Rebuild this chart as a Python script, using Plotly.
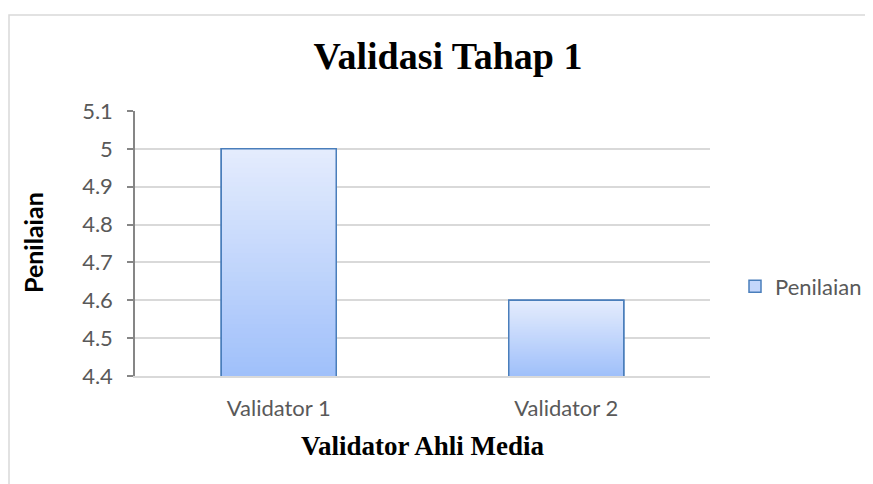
import plotly.graph_objects as go

categories = ["Validator 1", "Validator 2"]
values = [5.0, 4.6]
series_name = "Penilaian"
y_tickvals = [4.4, 4.5, 4.6, 4.7, 4.8, 4.9, 5.0, 5.1]
y_ticktext = ["4.4", "4.5", "4.6", "4.7", "4.8", "4.9", "5", "5.1"]
title_text = "Validasi Tahap 1"
x_title = "Validator Ahli Media"
y_title = "Penilaian"

YMIN, YMAX = 4.4, 5.1
BAR_W = 0.4
TOP_RGB = (228, 236, 253)
BOT_RGB = (160, 192, 250)
EDGE = "#4a7ebb"
N_STEPS = 48

# page body has an 8px margin; the figure is sized so the plot lands where wanted
OFF = 8
FIG_W, FIG_H = 873 - OFF, 484 - OFF
PL, PR, PT, PB = 135, 710, 111, 376  # plot area in window pixels


def px_x(X):
    return (X - PL) / (PR - PL)


def px_y(Y):
    return (PB - Y) / (PB - PT)


fig = go.Figure()

fig.add_trace(go.Bar(
    x=categories, y=values, name=series_name, width=BAR_W,
    marker=dict(color="rgb(196,214,251)", line=dict(color=EDGE, width=1.5)),
    hoverinfo="skip", showlegend=True,
))

for k in range(N_STEPS):
    t = k / (N_STEPS - 1)
    col = tuple(round(TOP_RGB[i] + (BOT_RGB[i] - TOP_RGB[i]) * t) for i in range(3))
    ys = [YMIN + (v - YMIN) * (1 - k / N_STEPS) for v in values]
    fig.add_trace(go.Bar(
        x=categories, y=ys, width=BAR_W,
        marker=dict(color="rgb(%d,%d,%d)" % col, line=dict(width=0)),
        hoverinfo="skip", showlegend=False,
    ))

fig.add_trace(go.Bar(
    x=categories, y=values, width=BAR_W,
    marker=dict(color="rgba(0,0,0,0)", line=dict(color=EDGE, width=1.5)),
    hoverinfo="skip", showlegend=False,
))

fig.update_layout(
    width=FIG_W, height=FIG_H,
    barmode="overlay",
    paper_bgcolor="white", plot_bgcolor="white",
    margin=dict(l=PL - OFF, r=873 - PR, t=PT - OFF, b=484 - PB, autoexpand=False),
    font=dict(family="Lato, 'Open Sans', sans-serif", color="#595959", size=22),
    title=dict(text="<b>" + title_text + "</b>", x=(448 - OFF) / FIG_W, xanchor="center",
               y=1 - (55.5 - OFF) / FIG_H, yanchor="middle", yref="container",
               font=dict(family="'Liberation Serif', 'Times New Roman', serif",
                         size=38, color="black")),
    showlegend=True,
    legend=dict(xref="container", x=(735 - OFF) / FIG_W, xanchor="left",
                yref="container", y=1 - (286.5 - OFF) / FIG_H, yanchor="middle",
                font=dict(family="Lato, sans-serif", size=22, color="#595959"),
                itemwidth=30, bgcolor="rgba(0,0,0,0)"),
    xaxis=dict(showgrid=False, showline=True, linecolor="#d9d9d9", linewidth=1.5,
               ticks="outside", ticklen=12, tickcolor="rgba(0,0,0,0)",
               tickfont=dict(size=22, color="#595959"), fixedrange=True),
    yaxis=dict(range=[YMIN, YMAX], tickvals=y_tickvals, ticktext=y_ticktext,
               showgrid=True, gridcolor="#d9d9d9", gridwidth=1.5,
               showline=True, linecolor="#868686", linewidth=1.5,
               ticks="outside", ticklen=6, tickcolor="#868686", tickwidth=1.5,
               ticklabelstandoff=10, zeroline=False,
               tickfont=dict(size=22, color="#595959"), fixedrange=True),
    annotations=[
        dict(text="<b>" + y_title + "</b>", xref="paper", yref="paper",
             x=px_x(33), y=px_y(243), xanchor="center", yanchor="middle",
             textangle=-90, showarrow=False,
             font=dict(family="Lato, sans-serif", size=25, color="black")),
        dict(text="<b>" + x_title + "</b>", xref="paper", yref="paper",
             x=px_x(423), y=px_y(446), xanchor="center", yanchor="middle",
             showarrow=False,
             font=dict(family="'Liberation Serif', 'Times New Roman', serif", size=27,
                       color="black")),
    ],
    shapes=[
        dict(type="rect", xref="paper", yref="paper",
             x0=px_x(9), x1=2.0, y0=-2.0, y1=px_y(15),
             line=dict(color="#d9d9d9", width=1.5), fillcolor="rgba(0,0,0,0)",
             layer="below"),
    ],
)

fig.write_html("out.html")
